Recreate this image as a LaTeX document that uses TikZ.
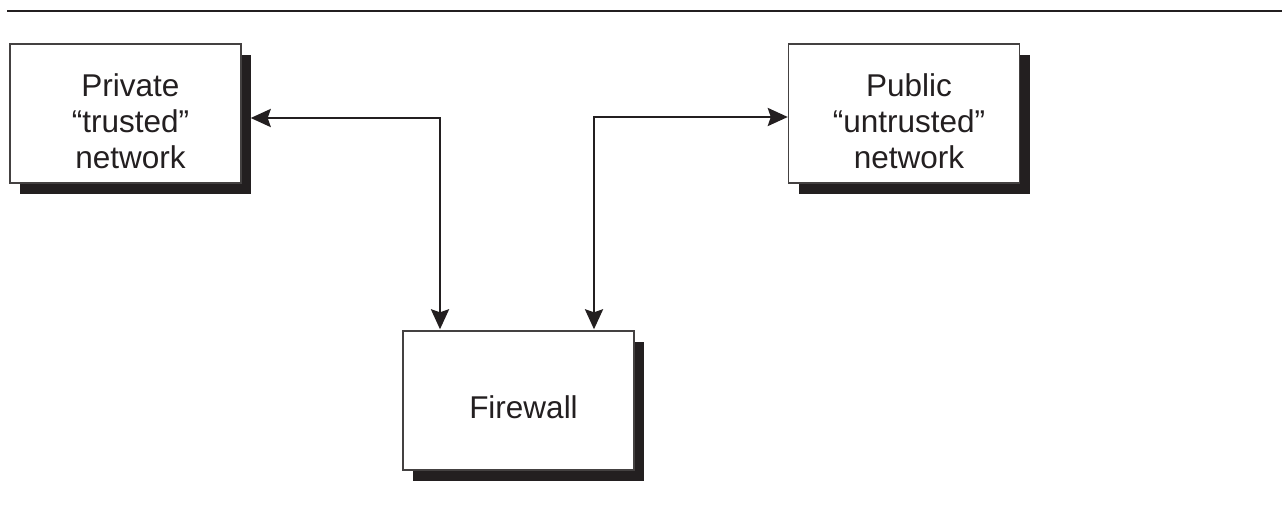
\documentclass[tikz,border=0pt]{standalone}
\usepackage{fontspec}
\setmainfont{Liberation Sans}
\usetikzlibrary{arrows.meta,shadows}
\definecolor{ink}{HTML}{231F20}
\begin{document}
\begin{tikzpicture}[x=1pt,y=-1pt,
  box/.style={draw=ink!85, line width=1.4pt, fill=white,
    minimum width=231pt, minimum height=139pt, inner sep=0pt,
    general shadow={shadow xshift=10pt, shadow yshift=-11pt, fill=ink}},
  boxtext/.style={text=ink, font=\fontsize{31.5}{36}\selectfont, align=center, inner sep=0pt},
  tip/.tip={Stealth[length=20pt,width=18pt,inset=3pt]},
  conn/.style={draw=ink, line width=2.6pt, tip-tip}
]
\useasboundingbox (0,0) rectangle (1282,508);

% rule across the top
\coordinate (ruleL) at (7,11);
\coordinate (ruleR) at (1282,11);
\draw[ink, line width=1.5pt] (ruleL) -- (ruleR);

% the three boxes
\node[box] (priv) at (125.5,113.5) {};
\node[box] (pub)  at (904,113.5) {};
\node[box] (fw)   at (518.5,400.5) {};

% box captions
\node[boxtext] (privtxt) at ([shift={(5,7.5)}]priv.center) {Private\\“trusted”\\network};
\node[boxtext] (pubtxt)  at ([shift={(5,7.5)}]pub.center)  {Public\\“untrusted”\\network};
\node[boxtext] (fwtxt)   at ([shift={(5,6.5)}]fw.center)   {Firewall};

% connectors
\draw[conn] ([shift={(9,4.5)}]priv.east) -| ([shift={(-78.5,-1)}]fw.north);
\draw[conn] ([shift={(75.5,-1)}]fw.north) |- ([shift={(0,3.5)}]pub.west);
\end{tikzpicture}
\end{document}
